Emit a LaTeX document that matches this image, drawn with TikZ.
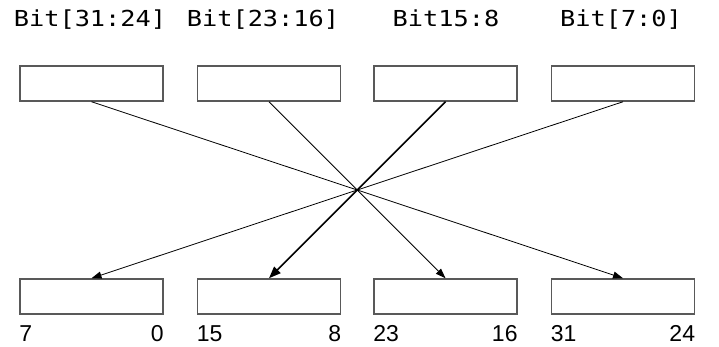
\documentclass[tikz,border=0pt]{standalone}
\usepackage{fontspec}
\setmainfont{Liberation Sans}
\newfontfamily\bitfont{DejaVu Sans Mono}[FakeStretch=1.15]
\usetikzlibrary{arrows.meta}

\begin{document}
\begin{tikzpicture}[x=1pt, y=-1pt,
    reg/.style={draw=black!65, line width=1.5pt, minimum width=143pt, minimum height=35pt, inner sep=0pt},
    head/.style={anchor=base, inner sep=0pt, font=\bitfont\fontsize{22}{22}\selectfont},
    num/.style={inner sep=0pt, yshift=-27pt, font=\fontsize{23}{23}\selectfont},
    swap/.style={-{Triangle[length=10pt, width=7pt]}, line width=0.8pt},
    swapthick/.style={-{Triangle[length=12pt, width=9pt]}, line width=1.6pt}]
  \useasboundingbox (0,0) rectangle (719,347);

  \node[head] (h1) at (90,27) {Bit[31:24]};
  \node[head] (h2) at (263,27) {Bit[23:16]};
  \node[head] (h3) at (446,27) {Bit15:8};
  \node[head] (h4) at (621,27) {Bit[7:0]};

  \node[reg] (t1) at (91.5,83.5) {};
  \node[reg] (t2) at (269,83.5) {};
  \node[reg] (t3) at (445.5,83.5) {};
  \node[reg] (t4) at (623,83.5) {};

  \node[reg] (b1) at (91.5,296.5) {};
  \node[reg] (b2) at (269,296.5) {};
  \node[reg] (b3) at (445.5,296.5) {};
  \node[reg] (b4) at (623,296.5) {};

  \node[num, anchor=base west] (b1l) at (b1.south west) {7};
  \node[num, anchor=base east] (b1r) at (b1.south east) {0};
  \node[num, anchor=base west] (b2l) at (b2.south west) {15};
  \node[num, anchor=base east] (b2r) at (b2.south east) {8};
  \node[num, anchor=base west] (b3l) at (b3.south west) {23};
  \node[num, anchor=base east] (b3r) at (b3.south east) {16};
  \node[num, anchor=base west] (b4l) at (b4.south west) {31};
  \node[num, anchor=base east] (b4r) at (b4.south east) {24};

  \draw[swap] (t1.south) -- (b4.north);
  \draw[swap] (t2.south) -- (b3.north);
  \draw[swapthick] (t3.south) -- (b2.north);
  \draw[swap] (t4.south) -- (b1.north);
\end{tikzpicture}
\end{document}
